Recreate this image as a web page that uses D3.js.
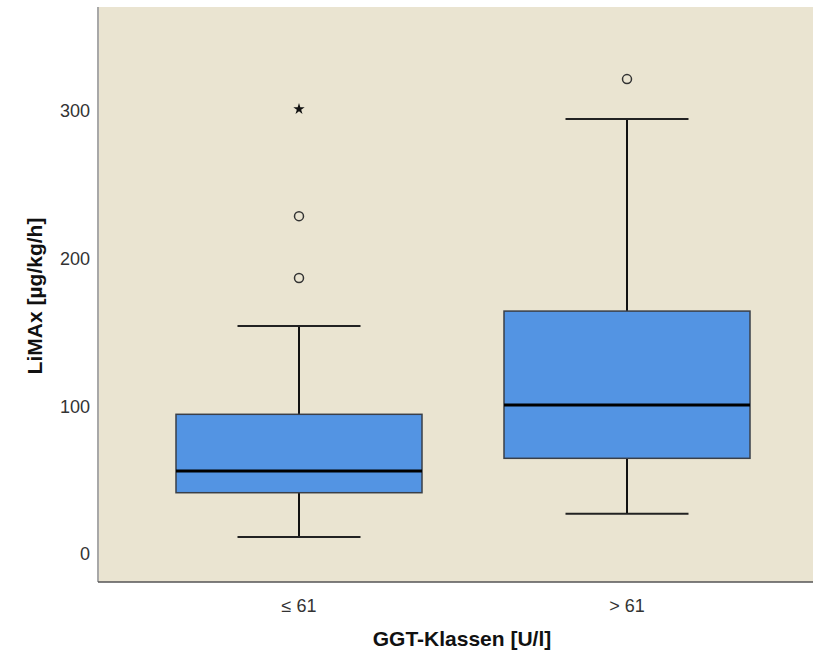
<!DOCTYPE html>
<html>
<head>
<meta charset="utf-8">
<script src="https://cdn.jsdelivr.net/npm/d3@7"></script>
<style>
  html, body { margin: 0; padding: 0; background: #ffffff; }
  svg { display: block; }
</style>
</head>
<body>
<svg id="chart" width="813" height="653"></svg>
<script>
// GGT classes on the x axis
const categories = ["≤ 61", "> 61"];

// Box statistics per class (LiMAx, µg/kg/h)
const whiskerLow  = [11.5, 27.3];
const q1          = [41.5, 64.8];
const median      = [56.2, 100.9];
const q3          = [94.6, 164.5];
const whiskerHigh = [154.4, 294.5];

// Outliers (circles) and extreme values (stars)
const outlierClass = ["≤ 61", "≤ 61", "> 61"];
const outlierValue = [186.9, 228.8, 321.6];
const extremeClass = ["≤ 61"];
const extremeValue = [301.3];

const yTicks = [0, 100, 200, 300];

const svg = d3.select("#chart");
const plot = { left: 98, top: 7, right: 813, bottom: 582 };
const font = "Liberation Sans, Arial, sans-serif";

const y = d3.scaleLinear().domain([0, 300]).range([554, 111]);
const x = d3.scaleBand().domain(categories).range([135, 791]).padding(0);
const boxW = x.bandwidth() * 0.75;
const capW = x.bandwidth() * 0.375;
const cx = c => x(c) + x.bandwidth() / 2;

// Plot background
svg.append("rect")
  .attr("x", plot.left).attr("y", plot.top)
  .attr("width", plot.right - plot.left).attr("height", plot.bottom - plot.top)
  .attr("fill", "#EAE4D1");

const boxes = categories.map((c, i) => ({
  c, lo: whiskerLow[i], q1: q1[i], med: median[i], q3: q3[i], hi: whiskerHigh[i]
}));

const g = svg.append("g");
boxes.forEach(b => {
  const xc = cx(b.c);
  // whiskers
  g.append("line").attr("x1", xc).attr("x2", xc).attr("y1", y(b.q3)).attr("y2", y(b.hi))
    .attr("stroke", "#111").attr("stroke-width", 2);
  g.append("line").attr("x1", xc).attr("x2", xc).attr("y1", y(b.q1)).attr("y2", y(b.lo))
    .attr("stroke", "#111").attr("stroke-width", 2);
  g.append("line").attr("x1", xc - capW / 2).attr("x2", xc + capW / 2).attr("y1", y(b.hi)).attr("y2", y(b.hi))
    .attr("stroke", "#222").attr("stroke-width", 2);
  g.append("line").attr("x1", xc - capW / 2).attr("x2", xc + capW / 2).attr("y1", y(b.lo)).attr("y2", y(b.lo))
    .attr("stroke", "#222").attr("stroke-width", 2);
  // box
  g.append("rect")
    .attr("x", xc - boxW / 2).attr("y", y(b.q3))
    .attr("width", boxW).attr("height", y(b.q1) - y(b.q3))
    .attr("fill", "#5394E3").attr("stroke", "#3a3f48").attr("stroke-width", 1.5);
  // median
  g.append("line").attr("x1", xc - boxW / 2).attr("x2", xc + boxW / 2).attr("y1", y(b.med)).attr("y2", y(b.med))
    .attr("stroke", "#000").attr("stroke-width", 3);
});

// outliers
outlierValue.forEach((v, i) => {
  g.append("circle").attr("cx", cx(outlierClass[i])).attr("cy", y(v)).attr("r", 4.5)
    .attr("fill", "none").attr("stroke", "#333").attr("stroke-width", 1.5);
});
// extreme values
extremeValue.forEach((v, i) => {
  g.append("path")
    .attr("d", d3.symbol(d3.symbolStar, 40)())
    .attr("transform", `translate(${cx(extremeClass[i])},${y(v)})`)
    .attr("fill", "#111");
});

// axes lines
svg.append("line").attr("x1", plot.left).attr("x2", plot.left).attr("y1", plot.top).attr("y2", plot.bottom)
  .attr("stroke", "#a8a8a8").attr("stroke-width", 2);
svg.append("line").attr("x1", plot.left).attr("x2", plot.right).attr("y1", plot.bottom).attr("y2", plot.bottom)
  .attr("stroke", "#555").attr("stroke-width", 1.5);

// y tick labels
svg.append("g").selectAll("text").data(yTicks).join("text")
  .attr("x", 90).attr("y", d => y(d)).attr("dy", "0.36em")
  .attr("text-anchor", "end")
  .attr("font-family", font).attr("font-size", 18)
  .attr("fill", "#333").text(d => d);

// x tick labels
svg.append("g").selectAll("text").data(categories).join("text")
  .attr("x", d => cx(d)).attr("y", 612)
  .attr("text-anchor", "middle")
  .attr("font-family", font).attr("font-size", 18)
  .attr("fill", "#333").text(d => d);

// axis titles
svg.append("text").attr("x", 462).attr("y", 646).attr("text-anchor", "middle")
  .attr("font-family", font).attr("font-size", 21)
  .attr("font-weight", "bold").attr("fill", "#111").text("GGT-Klassen [U/l]");
svg.append("text").attr("transform", "translate(42,296) rotate(-90)").attr("text-anchor", "middle")
  .attr("font-family", font).attr("font-size", 21)
  .attr("font-weight", "bold").attr("fill", "#111").text("LiMAx [µg/kg/h]");
</script>
</body>
</html>
